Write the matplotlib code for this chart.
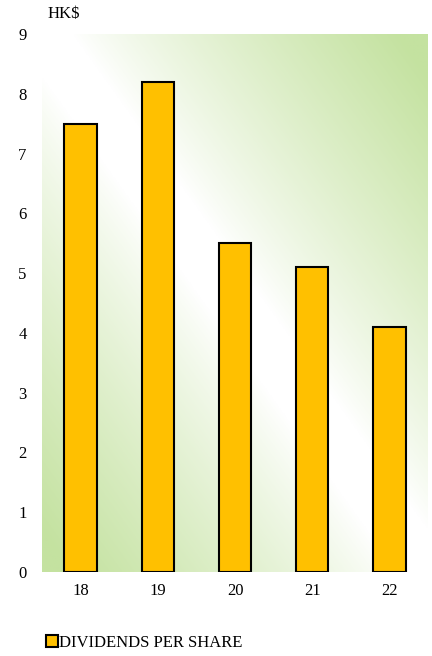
import numpy as np
import matplotlib
matplotlib.use("Agg")
import matplotlib.pyplot as plt
from matplotlib.colors import LinearSegmentedColormap
from matplotlib.patches import Patch


# ---------------------------------------------------------------------
# Data
# ---------------------------------------------------------------------

years = ["18", "19", "20", "21", "22"]
dividends = [7.5, 8.2, 5.5, 5.1, 4.1]
y_ticks = [0, 1, 2, 3, 4, 5, 6, 7, 8, 9]

BAR_COLOR = "#ffc000"
GREEN = "#c4e2a0"

plt.rcParams["font.family"] = ["Liberation Serif", "DejaVu Serif"]


# ---------------------------------------------------------------------
# Plot
# ---------------------------------------------------------------------

fig = plt.figure(figsize=(4.32, 6.56), dpi=100)
ax = fig.add_axes([42 / 432, 84 / 656, 386 / 432, 538 / 656])

# diagonal green-white-green background
n = 300
gx, gy = np.meshgrid(np.linspace(0, 1, n), np.linspace(0, 1, n))
t = np.abs((gx + gy) / 2 - 0.5) * 2
t = np.clip((t - 0.08) / 0.85, 0, 1) ** 0.85
cmap = LinearSegmentedColormap.from_list("bg", ["#ffffff", GREEN])
ax.imshow(t, cmap=cmap, origin="lower", extent=[0, 1, 0, 1],
          transform=ax.transAxes, aspect="auto", zorder=0, vmin=0, vmax=1)

x = np.arange(len(years))
ax.bar(x, dividends, width=0.42, color=BAR_COLOR, edgecolor="black",
       linewidth=1.5, zorder=2)

ax.set_xlim(-0.5, len(years) - 0.5)
ax.set_ylim(0, 9)
ax.set_xticks(x)
ax.set_xticklabels(years)
ax.set_yticks(y_ticks)
ax.tick_params(length=0, labelsize=12)
ax.tick_params(axis="y", pad=11)
ax.tick_params(axis="x", pad=8)
for s in ax.spines.values():
    s.set_visible(False)

fig.text(48 / 432, 1 - 14 / 656, "HK$", fontsize=12, va="center", ha="left")

handle = Patch(facecolor=BAR_COLOR, edgecolor="black", linewidth=1.5)
fig.legend([handle], ["DIVIDENDS PER SHARE"], loc="center left",
           bbox_to_anchor=(46 / 432, 1 - 643 / 656), frameon=False,
           fontsize=12, handlelength=0.7, handleheight=0.7,
           handletextpad=0.1, borderaxespad=0, borderpad=0)

fig.savefig("out.png", dpi=100)
